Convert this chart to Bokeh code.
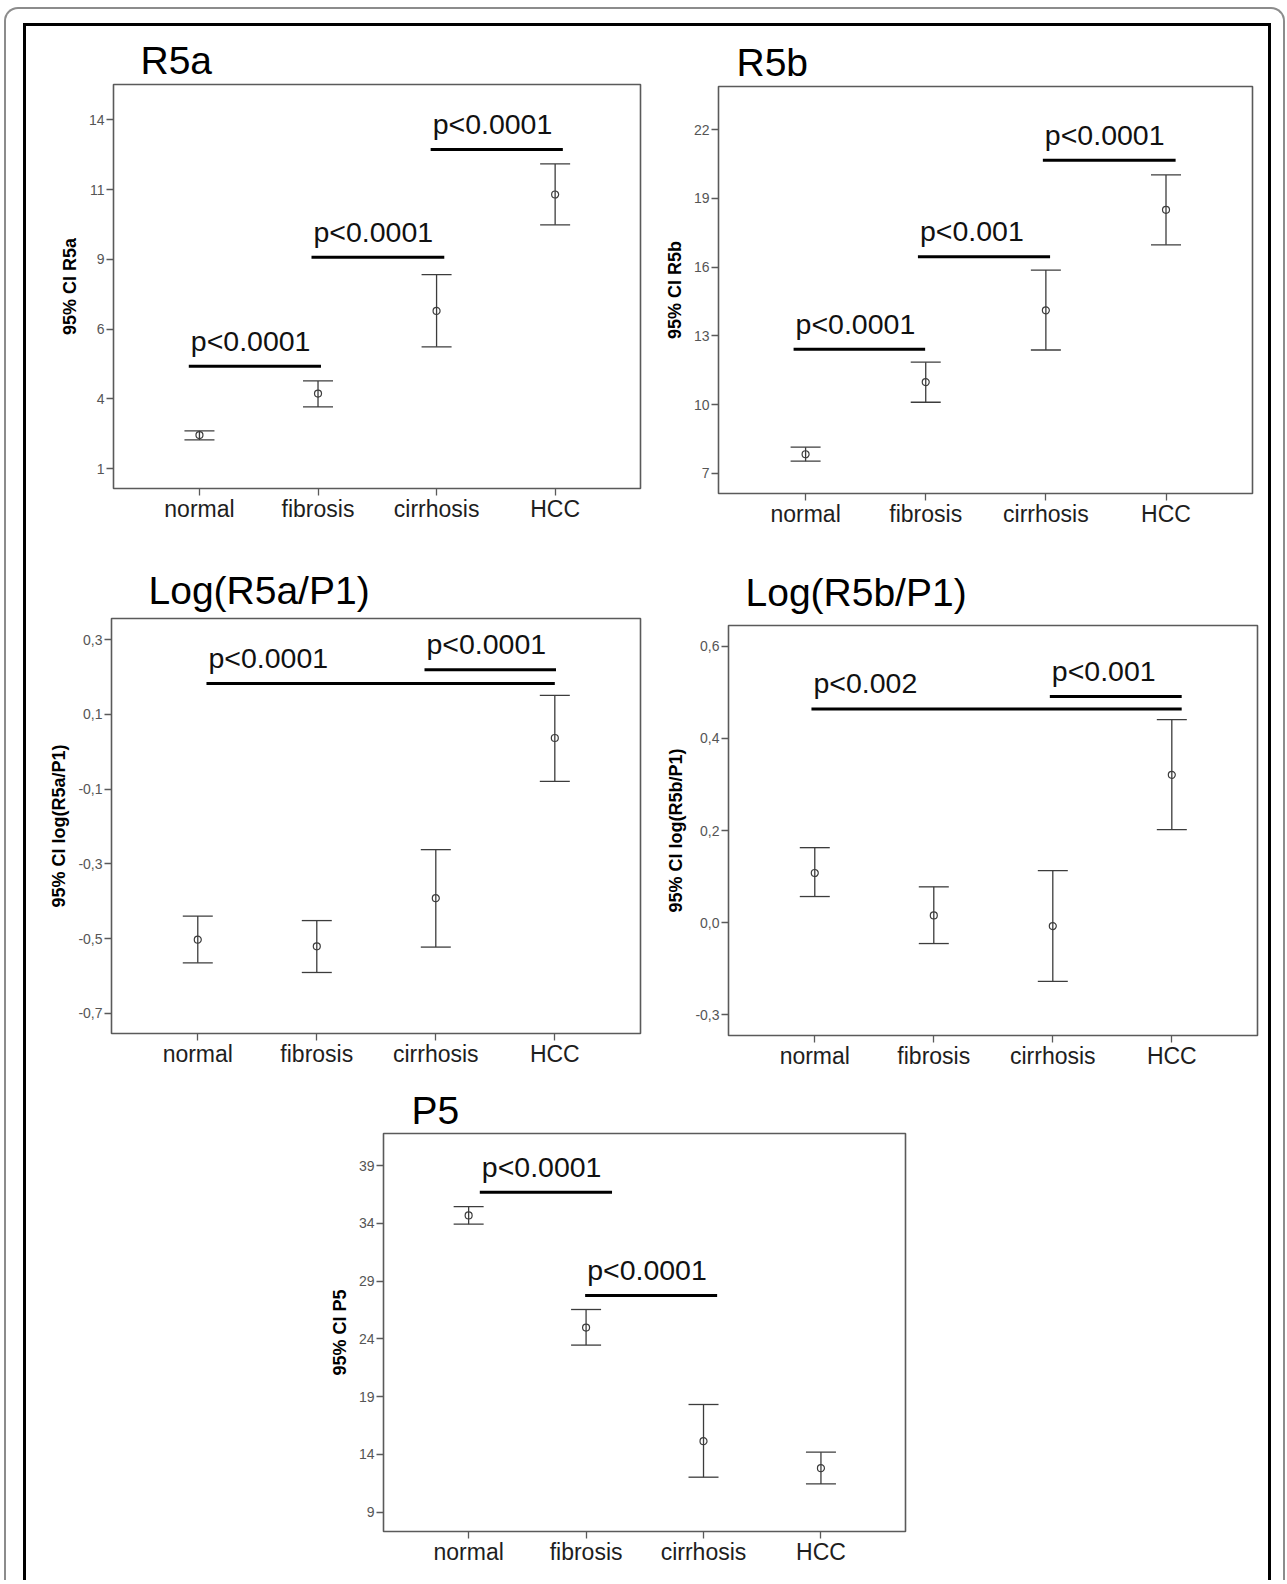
from bokeh.plotting import figure
from bokeh.layouts import row, column, Spacer
from bokeh.models import ColumnDataSource, Whisker, TeeHead, FixedTicker, Range1d
from bokeh.embed import file_html
from bokeh.resources import INLINE
from bokeh.core.properties import value

# ---------------- data ----------------
categories = ["normal", "fibrosis", "cirrhosis", "HCC"]
cat_x = [1, 2, 3, 4]

# R5a
r5a_mean = [2.25, 3.80, 6.88, 11.22]
r5a_lower = [2.07, 3.30, 5.54, 10.09]
r5a_upper = [2.41, 4.27, 8.23, 12.36]
r5a_ticks = [1, 3.6, 6.2, 8.8, 11.4, 14]
r5a_tick_labels = ["1", "4", "6", "9", "11", "14"]
r5a_sig_x0 = [0.91, 1.945, 2.95]
r5a_sig_x1 = [2.025, 3.065, 4.065]
r5a_sig_y = [4.82, 8.88, 12.90]
r5a_sig_text = ["p<0.0001", "p<0.0001", "p<0.0001"]

# R5b
r5b_mean = [7.83, 10.98, 14.11, 18.50]
r5b_lower = [7.53, 10.10, 12.38, 16.97]
r5b_upper = [8.14, 11.85, 15.87, 20.02]
r5b_ticks = [7, 10, 13, 16, 19, 22]
r5b_tick_labels = ["7", "10", "13", "16", "19", "22"]
r5b_sig_x0 = [0.90, 1.935, 2.975]
r5b_sig_x1 = [1.995, 3.035, 4.08]
r5b_sig_y = [12.41, 16.45, 20.66]
r5b_sig_text = ["p<0.0001", "p<0.001", "p<0.0001"]

# Log(R5a/P1)
la_mean = [-0.503, -0.521, -0.392, 0.037]
la_lower = [-0.565, -0.591, -0.523, -0.079]
la_upper = [-0.440, -0.452, -0.262, 0.151]
la_ticks = [-0.7, -0.5, -0.3, -0.1, 0.1, 0.3]
la_tick_labels = ["-0,7", "-0,5", "-0,3", "-0,1", "0,1", "0,3"]
la_sig_x0 = [1.073, 2.905]
la_sig_x1 = [4.0, 4.01]
la_sig_y = [0.183, 0.220]
la_sig_text = ["p<0.0001", "p<0.0001"]

# Log(R5b/P1)
lb_mean = [0.108, 0.016, -0.007, 0.321]
lb_lower = [0.057, -0.045, -0.127, 0.202]
lb_upper = [0.163, 0.078, 0.113, 0.441]
lb_ticks = [-0.2, 0.0, 0.2, 0.4, 0.6]
lb_tick_labels = ["-0,3", "0,0", "0,2", "0,4", "0,6"]
lb_sig_x0 = [0.972, 2.975]
lb_sig_x1 = [4.083, 4.083]
lb_sig_y = [0.464, 0.491]
lb_sig_text = ["p<0.002", "p<0.001"]

# P5
p5_mean = [34.68, 24.98, 15.15, 12.81]
p5_lower = [33.92, 23.46, 12.03, 11.45]
p5_upper = [35.45, 26.54, 18.32, 14.19]
p5_ticks = [9, 14, 19, 24, 29, 34, 39]
p5_tick_labels = ["9", "14", "19", "24", "29", "34", "39"]
p5_sig_x0 = [1.095, 1.992]
p5_sig_x1 = [2.221, 3.116]
p5_sig_y = [36.69, 27.75]
p5_sig_text = ["p<0.0001", "p<0.0001"]

# ---------------- styling ----------------
FONT = "Liberation Sans"
FRAME = "#5a5a5a"
EB = "#3c3c3c"
X_RANGE = (0.275, 4.72)
TEXT_RISE_PX = 25.5   # anchor rise that puts the text baseline ~13px above the bar
TEXT_SHIFT_PX = 2.0


def panel(title, ylabel, mean, lower, upper, ticks, tick_labels, yrange,
          sx0, sx1, sy, stext, geom, title_offset, title_standoff):
    fw, fh, bl, bt, br, bb = geom
    p = figure(frame_width=fw, frame_height=fh,
               min_border_left=bl, min_border_top=bt,
               min_border_right=br, min_border_bottom=bb,
               x_range=Range1d(*X_RANGE), y_range=Range1d(*yrange),
               output_backend="svg", toolbar_location=None,
               background_fill_color="white", border_fill_color="white")
    p.grid.visible = False
    p.outline_line_color = FRAME
    p.outline_line_width = 1.6

    p.title.text = title
    p.title.text_font = FONT
    p.title.text_font_size = "39px"
    p.title.text_font_style = "normal"
    p.title.text_color = "#000000"
    p.title.align = "left"
    p.title.offset = title_offset
    p.title.standoff = title_standoff

    xa = p.xaxis[0]
    xa.ticker = FixedTicker(ticks=cat_x)
    xa.major_label_overrides = {k: v for k, v in zip(cat_x, categories)}
    xa.major_label_text_font = FONT
    xa.major_label_text_font_size = "23px"
    xa.major_label_text_color = "#1e1e1e"
    xa.major_label_standoff = 0
    xa.major_tick_out = 7
    xa.major_tick_in = 0
    xa.major_tick_line_color = FRAME
    xa.major_tick_line_width = 1.3
    xa.minor_tick_line_color = None
    xa.axis_line_color = None

    ya = p.yaxis[0]
    ya.ticker = FixedTicker(ticks=ticks)
    ya.major_label_overrides = {k: v for k, v in zip(ticks, tick_labels)}
    ya.major_label_text_font = FONT
    ya.major_label_text_font_size = "14px"
    ya.major_label_text_color = "#555555"
    ya.major_label_standoff = 2
    ya.major_tick_out = 7
    ya.major_tick_in = 0
    ya.major_tick_line_color = FRAME
    ya.major_tick_line_width = 1.3
    ya.minor_tick_line_color = None
    ya.axis_line_color = None
    ya.axis_label = ylabel
    ya.axis_label_text_font = FONT
    ya.axis_label_text_font_style = "bold"
    ya.axis_label_text_font_size = "18px"
    ya.axis_label_text_color = "#000000"
    ya.axis_label_standoff = 6

    src = ColumnDataSource(dict(x=cat_x, mean=mean, lower=lower, upper=upper))
    w = Whisker(base="x", upper="upper", lower="lower", source=src,
                dimension="height", line_color=EB, line_width=1.3,
                upper_head=TeeHead(size=30, line_color=EB, line_width=1.3),
                lower_head=TeeHead(size=30, line_color=EB, line_width=1.3))
    p.add_layout(w)
    p.scatter("x", "mean", source=src, marker="circle", size=7,
              fill_color=None, line_color=EB, line_width=1.2)

    dy = TEXT_RISE_PX * (yrange[1] - yrange[0]) / fh
    dx = TEXT_SHIFT_PX * (X_RANGE[1] - X_RANGE[0]) / fw
    ssrc = ColumnDataSource(dict(x0=sx0, x1=sx1, y=sy, t=stext,
                                 tx=[v + dx for v in sx0],
                                 ty=[v + dy for v in sy]))
    p.segment(x0="x0", y0="y", x1="x1", y1="y", source=ssrc,
              line_color="#000000", line_width=3)
    p.text(x="tx", y="ty", text="t", source=ssrc,
           text_font=value(FONT), text_font_size="28.5px",
           text_baseline="alphabetic", text_align="left", text_color="#111111")
    return p


# geometry: frame_w, frame_h, border_left, border_top, border_right, border_bottom
p1 = panel("R5a", "95% CI R5a", r5a_mean, r5a_lower, r5a_upper, r5a_ticks,
           r5a_tick_labels, (0.26, 15.32), r5a_sig_x0, r5a_sig_x1, r5a_sig_y,
           r5a_sig_text, (527, 404, 87, 58, 8, 42), 27, 5)
p2 = panel("R5b", "95% CI R5b", r5b_mean, r5b_lower, r5b_upper, r5b_ticks,
           r5b_tick_labels, (6.118, 23.88), r5b_sig_x0, r5b_sig_x1, r5b_sig_y,
           r5b_sig_text, (534, 407, 70, 58, 16, 42), 18, 6)
p3 = panel("Log(R5a/P1)", "95% CI log(R5a/P1)", la_mean, la_lower, la_upper,
           la_ticks, la_tick_labels, (-0.7544, 0.357), la_sig_x0, la_sig_x1,
           la_sig_y, la_sig_text, (529, 415, 85, 83, 18, 45), 37, 13)
p4 = panel("Log(R5b/P1)", "95% CI log(R5b/P1)", lb_mean, lb_lower, lb_upper,
           lb_ticks, lb_tick_labels, (-0.2445, 0.645), lb_sig_x0, lb_sig_x1,
           lb_sig_y, lb_sig_text, (529, 410, 70, 83, 11, 45), 17, 23)
p5 = panel("P5", "95% CI P5", p5_mean, p5_lower, p5_upper, p5_ticks,
           p5_tick_labels, (7.33, 41.77), p5_sig_x0, p5_sig_x1, p5_sig_y,
           p5_sig_text, (522, 398, 70, 53, 10, 49), 28, 3)

c1 = column(p1, Spacer(width=622, height=5))
c2 = column(Spacer(width=620, height=2), p2)
c3 = column(p3, Spacer(width=632, height=2))
c4 = column(Spacer(width=610, height=7), p4)
r1 = row(c1, c2)
r2 = row(c3, c4)
r3 = row(Spacer(width=287, height=500), p5)

inner = column(r1, r2, r3, styles={
    "border-left": "3px solid #000", "border-right": "3px solid #000",
    "border-top": "3px solid #000", "background": "white"})
outer = column(inner, margin=(7, 0, 0, 4), styles={
    "border-left": "2px solid #8c8c8c", "border-right": "2px solid #8c8c8c",
    "border-top": "2px solid #8c8c8c", "border-radius": "14px 14px 0 0",
    "padding": "14px 12px 0 17px", "background": "white"})

open("out.html", "w").write(file_html(outer, INLINE))
